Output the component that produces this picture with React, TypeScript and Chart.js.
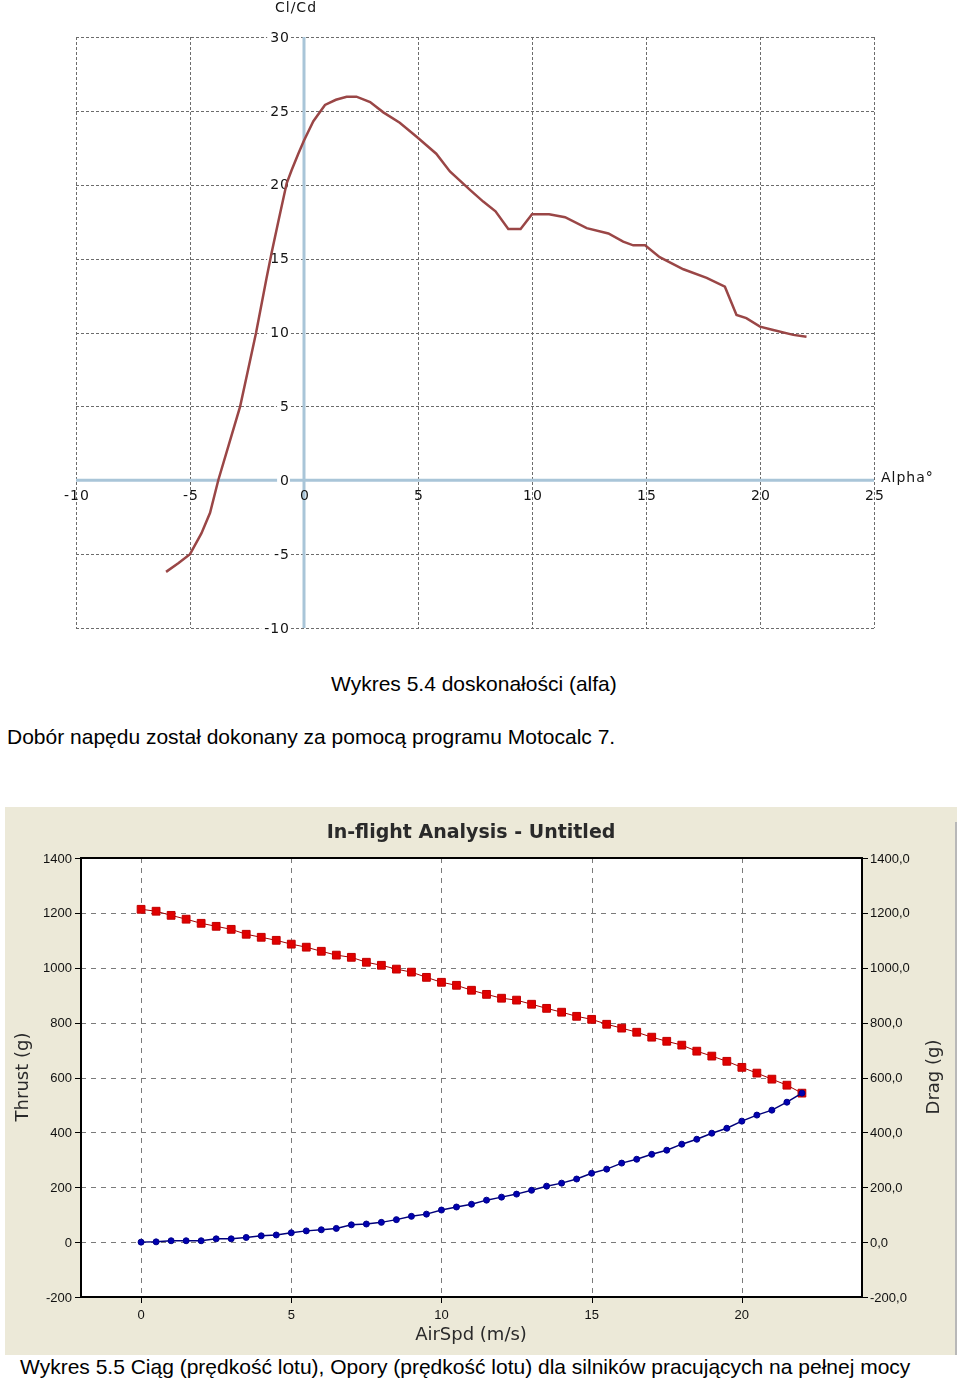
import React, { useEffect, useRef } from "react";
import { Chart, registerables } from "chart.js";
Chart.register(...registerables);

// ---------- Wykres 5.4: Cl/Cd vs alpha ----------
const alpha = [-6.05, -5.5, -5.0, -4.5, -4.12, -3.76, -3.3, -2.8, -2.45, -2.1, -1.64, -1.42, -1.1, -0.76, -0.54, -0.25, 0, 0.41, 0.92, 1.4, 1.87, 2.3, 2.9, 3.48, 4.2, 4.94, 5.8, 6.4, 7.28, 7.86, 8.4, 8.96, 9.5, 10.0, 10.75, 11.45, 12.4, 13.35, 14.0, 14.44, 14.96, 15.6, 16.64, 17.66, 18.46, 18.97, 19.4, 20.0, 20.58, 21.46, 22.04];
const clcd = [-6.2, -5.6, -5.0, -3.6, -2.2, 0, 2.4, 5, 7.5, 10, 13.7, 15.4, 17.7, 20.1, 21.0, 22.1, 23.0, 24.3, 25.4, 25.75, 25.96, 25.96, 25.6, 24.9, 24.2, 23.25, 22.1, 20.9, 19.65, 18.86, 18.2, 17.0, 17.0, 18.0, 18.0, 17.8, 17.06, 16.7, 16.15, 15.9, 15.9, 15.1, 14.28, 13.7, 13.1, 11.19, 10.97, 10.4, 10.17, 9.84, 9.72];
const alphaTicks = [-10, -5, 0, 5, 10, 15, 20, 25];
const clcdTicks = [-10, -5, 0, 5, 10, 15, 20, 25, 30];

// ---------- Wykres 5.5: thrust & drag vs airspeed ----------
const airSpeed = [0, 0.5, 1, 1.5, 2, 2.5, 3, 3.5, 4, 4.5, 5, 5.5, 6, 6.5, 7, 7.5, 8, 8.5, 9, 9.5, 10, 10.5, 11, 11.5, 12, 12.5, 13, 13.5, 14, 14.5, 15, 15.5, 16, 16.5, 17, 17.5, 18, 18.5, 19, 19.5, 20, 20.5, 21, 21.5, 22];
const thrust = [1213, 1206, 1191, 1177, 1162, 1151, 1140, 1122, 1111, 1100, 1086, 1075, 1060, 1046, 1038, 1020, 1009, 995, 984, 965, 947, 936, 918, 903, 889, 882, 867, 852, 838, 823, 812, 794, 780, 765, 747, 732, 718, 696, 678, 659, 637, 616, 594, 572, 543];
const drag = [0, 1, 5, 5, 5, 12, 12, 17, 23, 26, 34, 41, 45, 50, 63, 66, 72, 82, 94, 102, 117, 128, 138, 153, 164, 175, 189, 204, 215, 230, 251, 266, 288, 302, 320, 335, 357, 375, 397, 415, 441, 463, 481, 510, 543];
const speedTicks = [0, 5, 10, 15, 20];
const gramTicks = [-200, 0, 200, 400, 600, 800, 1000, 1200, 1400];

const topDecor = {
  id: "topDecor",
  beforeDatasetsDraw(chart: any) {
    const { ctx, chartArea: a, scales } = chart;
    const x = scales.x, y = scales.y;
    ctx.save();
    ctx.strokeStyle = "#6c6c6c";
    ctx.lineWidth = 1;
    ctx.setLineDash([3, 2]);
    for (const v of alphaTicks) {
      const px = Math.round(x.getPixelForValue(v)) + 0.5;
      ctx.beginPath(); ctx.moveTo(px, a.top); ctx.lineTo(px, a.bottom); ctx.stroke();
    }
    for (const v of clcdTicks) {
      const py = Math.round(y.getPixelForValue(v)) + 0.5;
      ctx.beginPath(); ctx.moveTo(a.left, py); ctx.lineTo(a.right, py); ctx.stroke();
    }
    ctx.setLineDash([]);
    const x0 = x.getPixelForValue(0), y0 = y.getPixelForValue(0);
    ctx.strokeStyle = "#a9c5d8";
    ctx.lineWidth = 3;
    ctx.beginPath(); ctx.moveTo(x0, a.top); ctx.lineTo(x0, a.bottom); ctx.stroke();
    ctx.beginPath(); ctx.moveTo(a.left, y0); ctx.lineTo(a.right, y0); ctx.stroke();

    ctx.font = '14px "DejaVu Sans"';
    (ctx as any).letterSpacing = "1px";
    ctx.textBaseline = "middle";
    ctx.fillStyle = "#141414";
    ctx.textAlign = "center";
    for (const v of alphaTicks) {
      ctx.fillText(String(v), x.getPixelForValue(v) + 1, y0 + 16);
    }
    ctx.textAlign = "right";
    for (const v of clcdTicks) {
      const py = y.getPixelForValue(v);
      const s = String(v);
      const w = ctx.measureText(s).width;
      ctx.fillStyle = "#ffffff";
      ctx.fillRect(x0 - 17 - w, py - 6, w + 3, 12);
      ctx.fillStyle = "#141414";
      ctx.fillText(s, x0 - 14, py + 1);
    }
    ctx.textAlign = "center";
    ctx.fillText("Cl/Cd", 296, 8);
    ctx.textAlign = "left";
    ctx.fillText("Alpha\u00b0", 881, 478);
    ctx.restore();
  },
};

const bottomDecor = {
  id: "bottomDecor",
  beforeDraw(chart: any) {
    const { ctx, chartArea: a, width, height } = chart;
    ctx.save();
    ctx.fillStyle = "#ece9d8";
    ctx.fillRect(0, 0, width, height);
    ctx.fillStyle = "#ffffff";
    ctx.fillRect(a.left, a.top, a.right - a.left, a.bottom - a.top);
    ctx.restore();
  },
  beforeDatasetsDraw(chart: any) {
    const { ctx, chartArea: a, scales } = chart;
    const x = scales.x, y = scales.y, y2 = scales.y2;
    ctx.save();
    ctx.strokeStyle = "#7a7a7a";
    ctx.lineWidth = 1;
    ctx.setLineDash([5, 5]);
    for (const v of speedTicks) {
      const px = Math.round(x.getPixelForValue(v)) + 0.5;
      ctx.beginPath(); ctx.moveTo(px, a.top); ctx.lineTo(px, a.bottom); ctx.stroke();
    }
    for (const v of gramTicks) {
      if (v === gramTicks[0] || v === gramTicks[gramTicks.length - 1]) continue;
      const py = Math.round(y.getPixelForValue(v)) + 0.5;
      ctx.beginPath(); ctx.moveTo(a.left, py); ctx.lineTo(a.right, py); ctx.stroke();
    }
    ctx.setLineDash([]);
    ctx.strokeStyle = "#000000";
    ctx.lineWidth = 2;
    ctx.strokeRect(a.left, a.top, a.right - a.left, a.bottom - a.top);
    ctx.lineWidth = 1;
    ctx.beginPath();
    for (const v of gramTicks) {
      const py = Math.round(y.getPixelForValue(v)) + 0.5;
      ctx.moveTo(a.left - 6, py); ctx.lineTo(a.left, py);
      const py2 = Math.round(y2.getPixelForValue(v)) + 0.5;
      ctx.moveTo(a.right, py2); ctx.lineTo(a.right + 6, py2);
    }
    for (const v of speedTicks) {
      const px = Math.round(x.getPixelForValue(v)) + 0.5;
      ctx.moveTo(px, a.bottom); ctx.lineTo(px, a.bottom + 6);
    }
    ctx.stroke();

    ctx.fillStyle = "#111111";
    ctx.font = '13px "Liberation Sans"';
    ctx.textBaseline = "middle";
    ctx.textAlign = "right";
    for (const v of gramTicks) ctx.fillText(String(v), a.left - 9, y.getPixelForValue(v) + 1);
    ctx.textAlign = "left";
    for (const v of gramTicks) ctx.fillText(v.toFixed(1).replace(".", ","), a.right + 8, y2.getPixelForValue(v) + 1);
    ctx.textAlign = "center";
    for (const v of speedTicks) ctx.fillText(String(v), x.getPixelForValue(v), a.bottom + 18);

    ctx.fillStyle = "#2a2a2a";
    ctx.font = 'bold 19px "DejaVu Sans"';
    ctx.fillText("In-flight Analysis - Untitled", 466, 26);
    ctx.font = '18px "DejaVu Sans"';
    ctx.fillText("AirSpd (m/s)", 466, 528);
    ctx.save();
    ctx.translate(18, 270);
    ctx.rotate(-Math.PI / 2);
    ctx.fillText("Thrust (g)", 0, 0);
    ctx.restore();
    ctx.save();
    ctx.translate(929, 270);
    ctx.rotate(-Math.PI / 2);
    ctx.fillText("Drag (g)", 0, 0);
    ctx.restore();
    ctx.restore();
  },
};

function TopChart() {
  const ref = useRef<HTMLCanvasElement>(null);
  useEffect(() => {
    const chart = new Chart(ref.current as HTMLCanvasElement, {
      type: "line",
      data: {
        datasets: [
          {
            data: alpha.map((a, i) => ({ x: a, y: clcd[i] })),
            borderColor: "#9a4646",
            borderWidth: 2.5,
            pointRadius: 0,
            tension: 0,
            fill: false,
          },
        ],
      },
      options: {
        responsive: false,
        animation: false,
        devicePixelRatio: 1,
        layout: { padding: { left: 76, right: 86, top: 37, bottom: 22 } },
        scales: {
          x: { type: "linear", min: -10, max: 25, display: false },
          y: { type: "linear", min: -10, max: 30, display: false },
        },
        plugins: { legend: { display: false }, tooltip: { enabled: false } },
      },
      plugins: [topDecor],
    } as any);
    return () => chart.destroy();
  }, []);
  return <canvas ref={ref} width={960} height={650} style={{ position: "absolute", left: 0, top: 0 }} />;
}

function BottomChart() {
  const ref = useRef<HTMLCanvasElement>(null);
  useEffect(() => {
    const chart = new Chart(ref.current as HTMLCanvasElement, {
      type: "line",
      data: {
        datasets: [
          {
            label: "Drag",
            data: airSpeed.map((v, i) => ({ x: v, y: drag[i] })),
            borderColor: "#00007a",
            borderWidth: 1.5,
            pointStyle: "circle",
            pointRadius: 3,
            pointBackgroundColor: "#0000b0",
            pointBorderColor: "#00008a",
            pointBorderWidth: 1,
            tension: 0,
            yAxisID: "y2",
          },
          {
            label: "Thrust",
            data: airSpeed.map((v, i) => ({ x: v, y: thrust[i] })),
            borderColor: "#a00000",
            borderWidth: 1,
            pointStyle: "rect",
            pointRadius: 5.5,
            pointBackgroundColor: "#e00000",
            pointBorderColor: "#c00000",
            pointBorderWidth: 1,
            tension: 0,
            yAxisID: "y",
          },
        ],
      },
      options: {
        responsive: false,
        animation: false,
        devicePixelRatio: 1,
        layout: { padding: { left: 76, right: 95, top: 51, bottom: 58 } },
        scales: {
          x: { type: "linear", min: -2, max: 24, display: false },
          y: { type: "linear", min: -200, max: 1400, display: false },
          y2: { type: "linear", min: -200, max: 1400, display: false, position: "right" },
        },
        plugins: { legend: { display: false }, tooltip: { enabled: false } },
      },
      plugins: [bottomDecor],
    } as any);
    return () => chart.destroy();
  }, []);
  return <canvas ref={ref} width={952} height={548} style={{ position: "absolute", left: 5, top: 807 }} />;
}

const textStyle: React.CSSProperties = {
  position: "absolute",
  fontFamily: '"Liberation Sans", Arial, sans-serif',
  fontSize: 21,
  color: "#000",
  whiteSpace: "nowrap",
  lineHeight: "24px",
};

export default function App() {
  return (
    <div style={{ position: "absolute", left: 0, top: 0, width: 960, height: 1379, background: "#fff", overflow: "hidden" }}>
      <TopChart />
      <div style={{ ...textStyle, left: 331, top: 672 }}>Wykres 5.4 doskonałości (alfa)</div>
      <div style={{ ...textStyle, left: 7, top: 725 }}>Dobór napędu został dokonany za pomocą programu Motocalc 7.</div>
      <BottomChart />
      <div style={{ position: "absolute", left: 955, top: 822, width: 2, height: 533, background: "#b8b8b8" }} />
      <div style={{ ...textStyle, left: 20, top: 1355 }}>Wykres 5.5 Ciąg (prędkość lotu), Opory (prędkość lotu) dla silników pracujących na pełnej mocy</div>
    </div>
  );
}
